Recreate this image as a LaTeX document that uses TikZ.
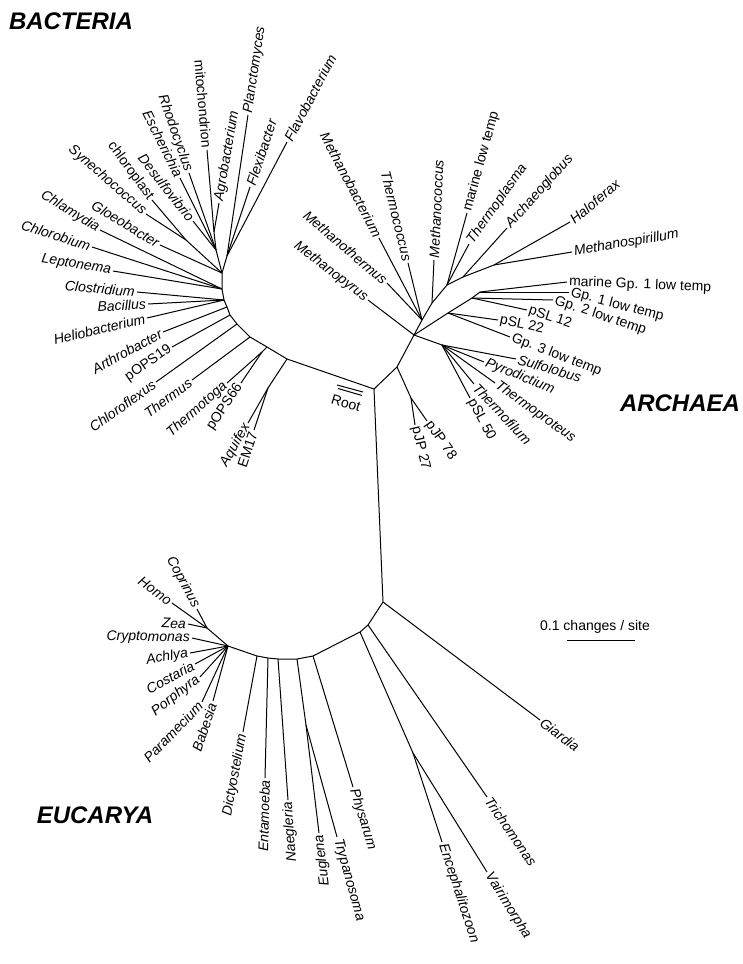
\documentclass[tikz,border=0pt]{standalone}
\usepackage{fontspec}
\setmainfont{Liberation Sans}
\newdimen\leafdx
\newdimen\leafdy
% one tip: branch from its parent, name set along the branch
% #1 turn the text round (0/1), #2 label style, #3 extra angle, #4 parent, #5 name, #6 tip, #7 text
\NewDocumentCommand{\taxonleaf}{m O{} O{0} m m m m}{%
  \coordinate (#5) at (#6);
  \draw[branch] (#4) -- (#5);
  \pgfextractx{\leafdx}{\pgfpointdiff{\pgfpointanchor{#4}{center}}{\pgfpointanchor{#5}{center}}}%
  \pgfextracty{\leafdy}{\pgfpointdiff{\pgfpointanchor{#4}{center}}{\pgfpointanchor{#5}{center}}}%
  \pgfmathsetmacro{\leafang}{atan2(\leafdy,\leafdx)}%
  \pgfmathsetmacro{\leafside}{abs((\leafdx>=0 ? 1 : 0)-#1)}%
  \ifdim\leafside pt>0.5pt
    \pgfmathsetmacro{\leafang}{\leafang+#3}%
    \node[taxon,#2,rotate=\leafang,anchor=west] (#5-l) at (#5) {#7};%
  \else
    \pgfmathsetmacro{\leafang}{\leafang-180+#3}%
    \node[taxon,#2,rotate=\leafang,anchor=east] (#5-l) at (#5) {#7};%
  \fi}
\NewDocumentCommand{\leaf}{O{} O{0} m m m m}{\taxonleaf{0}[#1][#2]{#3}{#4}{#5}{#6}}
\NewDocumentCommand{\leafr}{O{} O{0} m m m m}{\taxonleaf{1}[#1][#2]{#3}{#4}{#5}{#6}}

\begin{document}
\begin{tikzpicture}[x=1pt, y=-1pt,
  branch/.style={line width=1pt},
  taxon/.style={font=\fontsize{14}{16}\selectfont\itshape, inner sep=2pt},
  strain/.style={font=\fontsize{14}{16}\selectfont},
  kingdom/.style={font=\fontsize{24}{28}\selectfont\bfseries\itshape, inner sep=0pt}]
\useasboundingbox (0,0) rectangle (743,964);
% Root
\coordinate (root) at (374,389);
% Bacteria: backbone
\coordinate (b1) at (287,359);
\coordinate (b2) at (267,347);
\coordinate (b3) at (250,337);
\coordinate (b4) at (237,324);
\coordinate (b5) at (230,315);
\coordinate (b6) at (227,307);
\coordinate (b7) at (224,300);
\coordinate (b8) at (222,289);
\coordinate (b9) at (222,273);
\coordinate (bq) at (268,388);
\coordinate (bt) at (262,352);
\coordinate (bF) at (227,256);
\coordinate (bP) at (216,250);
\coordinate (bM) at (214,232);
\coordinate (bS) at (186,240);
\draw[branch] (root) -- (b1) -- (b2) -- (b3) -- (b4) -- (b5) -- (b6) -- (b7) -- (b8) -- (b9);
\draw[branch] (b1) -- (bq);
\draw[branch] (b2) -- (bt);
\draw[branch] (b9) -- (bF);
\draw[branch] (b9) -- (bP) -- (bM);
\draw[branch] (b9) -- (bS);
% Bacteria: tips
\leaf{bq}{aquifex}{248,423}{Aquifex}
\leaf[strain]{bq}{em17}{254,430}{EM17}
\leaf{bt}{thermotoga}{227,383}{Thermotoga}
\leaf[strain]{bt}{pops66}{241,383}{pOPS66}
\leaf{b3}{thermus}{192,380}{Thermus}
\leaf{b4}{chloroflexus}{156,382}{Chloroflexus}
\leaf[strain][6]{b5}{pops19}{172,347}{pOPS19}
\leaf[][7]{b6}{arthrobacter}{163,332}{Arthrobacter}
\leaf{b7}{heliobacterium}{147,318}{Heliobacterium}
\leaf{b7}{bacillus}{148,304}{Bacillus}
\leaf{b7}{clostridium}{137,292}{Clostridium}
\leaf{b8}{leptonema}{113,271}{Leptonema}
\leaf{b8}{chlorobium}{92,247}{Chlorobium}
\leaf[][-6]{b8}{chlamydia}{100,230}{Chlamydia}
\leaf[][-7]{b9}{gloeobacter}{160,245}{Gloeobacter}
\leaf[][-8]{bS}{synechococcus}{146,214}{Synechococcus}
\leaf[strain][-4]{bS}{chloroplast}{152,200}{chloroplast}
\leaf{bP}{desulfovibrio}{193,221}{Desulfovibrio}
\leaf{bP}{escherichia}{180,178}{Escherichia}
\leaf{bP}{rhodocyclus}{189,173}{Rhodocyclus}
\leaf[strain]{bM}{mitochondrion}{207,150}{mitochondrion}
\leaf{bM}{agrobacterium}{219,203}{Agrobacterium}
\leaf{bF}{planctomyces}{248,115}{Planctomyces}
\leaf{bF}{flexibacter}{250,187}{Flexibacter}
\leaf{bF}{flavobacterium}{287,142}{Flavobacterium}
% Archaea: backbone
\coordinate (a1) at (397,367);
\coordinate (a2) at (414,335);
\coordinate (a3) at (422,320);
\coordinate (a4) at (432,303);
\coordinate (a5) at (447,285);
\coordinate (a6) at (463,277);
\coordinate (a7) at (494,265);
\coordinate (aj) at (411,398);
\coordinate (c2) at (442,345);
\coordinate (c3) at (448,313);
\coordinate (c4) at (472,298);
\coordinate (c5) at (480,292);
\draw[branch] (root) -- (a1) -- (a2) -- (a3) -- (a4) -- (a5) -- (a6) -- (a7);
\draw[branch] (a1) -- (aj);
\draw[branch] (a2) -- (c3) -- (c4) -- (c5);
\draw[branch] (a2) -- (c2);
% Archaea: tips
\leaf[strain]{aj}{pjp78}{427,421}{pJP 78}
\leaf[strain][5]{aj}{pjp27}{415,425}{pJP 27}
\leaf{a2}{methanopyrus}{368,300}{Methanopyrus}
\leaf[][6]{a3}{methanothermus}{387,283}{Methanothermus}
\leaf{a3}{methanobacterium}{379,238}{Methanobacterium}
\leaf{a3}{thermococcus}{408,263}{Thermococcus}
\leaf{a4}{methanococcus}{434,260}{Methanococcus}
\leaf[strain]{a5}{marinelow}{467,213}{marine low temp}
\leaf[][-7]{a5}{thermoplasma}{469,244}{Thermoplasma}
\leaf{a6}{archaeoglobus}{507,228}{Archaeoglobus}
\leaf[][10]{a7}{haloferax}{570,222}{Haloferax}
\leaf{a7}{methanospirillum}{572,252}{Methanospirillum}
\leaf[strain][-9]{c5}{mgp1}{567,282}{marine Gp. 1 low temp}
\leaf[strain][-15]{c5}{gp1}{569,292}{Gp. 1 low temp}
\leaf[strain][-17]{c4}{gp2}{553,300}{Gp. 2 low temp}
\leaf[strain][-6]{c4}{psl12}{527,310}{pSL 12}
\leaf[strain][-4]{c3}{psl22}{498,320}{pSL 22}
\leaf[strain]{c3}{gp3}{510,337}{Gp. 3 low temp}
\leaf[][-5]{c2}{sulfolobus}{516,359}{Sulfolobus}
\leaf{c2}{pyrodictium}{484,362}{Pyrodictium}
\leaf{c2}{thermoproteus}{495,383}{Thermoproteus}
\leaf[][4]{c2}{thermofilum}{474,384}{Thermofilum}
\leaf[strain]{c2}{psl50}{470,398}{pSL 50}
% Eucarya: backbone
\coordinate (e0) at (383,602);
\coordinate (e1) at (368,625);
\coordinate (e2) at (360,632);
\coordinate (e3) at (313,656);
\coordinate (e4) at (297,659);
\coordinate (e5) at (278,659);
\coordinate (e6) at (268,658);
\coordinate (e7) at (257,656);
\coordinate (k0) at (228,646);
\coordinate (k1) at (207,628);
\coordinate (ev) at (413,753);
\coordinate (et) at (306,725);
\draw[branch] (root) -- (e0) -- (e1) -- (e2) -- (e3) -- (e4) -- (e5) -- (e6) -- (e7) -- (k0) -- (k1);
\draw[branch] (e2) -- (ev);
\draw[branch] (e4) -- (et);
% Eucarya: tips
\leaf{e0}{giardia}{540,720}{Giardia}
\leaf{e1}{trichomonas}{487,797}{Trichomonas}
\leaf{ev}{vairimorpha}{487,872}{Vairimorpha}
\leaf{ev}{encephalitozoon}{442,842}{Encephalitozoon}
\leaf{e3}{physarum}{353,787}{Physarum}
\leaf{et}{trypanosoma}{337,837}{Trypanosoma}
\leafr{et}{euglena}{319,833}{Euglena}
\leafr{e5}{naegleria}{288,800}{Naegleria}
\leaf{e6}{entamoeba}{265,778}{Entamoeba}
\leaf{e7}{dictyostelium}{243,732}{Dictyostelium}
\leaf{k1}{coprinus}{197,609}{Coprinus}
\leaf{k1}{homo}{172,603}{Homo}
\leaf[][10]{k1}{zea}{188,624}{Zea}
\leaf[][12]{k0}{cryptomonas}{192,638}{Cryptomonas}
\leaf{k0}{achlya}{190,653}{Achlya}
\leaf{k0}{costaria}{195,664}{Costaria}
\leaf[][-10]{k0}{porphyra}{200,677}{Porphyra}
\leaf[][-19]{k0}{paramecium}{202,702}{Paramecium}
\leaf[][-3]{k0}{babesia}{213,701}{Babesia}
% Root mark
\draw[branch] (337,385) -- (363,392);
\draw[branch] (338,388.5) -- (362,395.5);
\node[strain, rotate=-17] (rootlabel) at (346,403) {Root};
% Kingdoms
\node[kingdom] (bacteria) at (71,21) {BACTERIA};
\node[kingdom] (archaea) at (680,403) {ARCHAEA};
\node[kingdom] (eucarya) at (95,815) {EUCARYA};
% Scale
\node[strain, inner sep=0pt] (scale) at (595,627) {0.1 changes / site};
\draw[branch] (567,640) -- (635,640);
\end{tikzpicture}
\end{document}
